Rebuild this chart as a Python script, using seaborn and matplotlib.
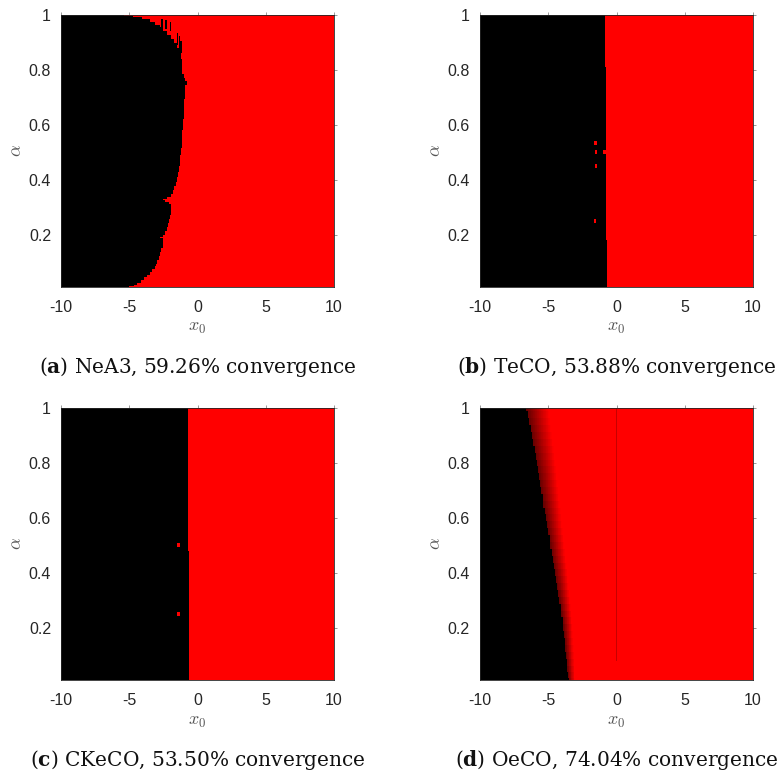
import numpy as np
import matplotlib
matplotlib.use("Agg")
import matplotlib.pyplot as plt
import seaborn as sns
from matplotlib.colors import LinearSegmentedColormap

# ---- parameter plane ------------------------------------------------------
X0_MIN, X0_MAX = -10.0, 10.0
ALPHA_MIN, ALPHA_MAX = 0.01, 1.0
X_TICKS = [-10, -5, 0, 5, 10]
ALPHA_TICKS = [0.2, 0.4, 0.6, 0.8, 1]
N_ROWS, N_COLS = 272, 400

# ---- basin boundaries: for each alpha knot, the x0 below which the scheme diverges
neA3_alpha = [0.010, 0.016, 0.022, 0.030, 0.040, 0.050, 0.060, 0.070, 0.080, 0.090,
              0.100, 0.115, 0.130, 0.145, 0.160, 0.175, 0.184, 0.190, 0.197, 0.205,
              0.220, 0.235, 0.250, 0.265, 0.280, 0.295, 0.308, 0.317, 0.323, 0.329,
              0.335, 0.343, 0.355, 0.370, 0.385, 0.400, 0.420, 0.440, 0.460, 0.480,
              0.500, 0.530, 0.560, 0.600, 0.640, 0.680, 0.710, 0.740, 0.770, 0.800,
              0.830, 0.850, 0.870, 0.890, 0.905, 0.920, 0.935, 0.950, 0.960, 0.970,
              0.980, 0.988, 0.994, 1.000]
neA3_edge = [-5.00, -4.65, -4.40, -4.15, -3.90, -3.68, -3.48, -3.32, -3.17, -3.05,
             -2.95, -2.84, -2.74, -2.65, -2.57, -2.50, -2.55, -2.75, -2.55, -2.40,
             -2.27, -2.17, -2.09, -2.02, -1.97, -1.94, -1.96, -2.08, -2.35, -2.55,
             -2.20, -1.95, -1.80, -1.68, -1.58, -1.50, -1.42, -1.35, -1.29, -1.24,
             -1.19, -1.13, -1.09, -1.06, -1.02, -0.98, -0.93, -0.93, -1.00, -1.08,
             -1.16, -1.22, -1.30, -1.48, -1.68, -1.95, -2.20, -2.50, -2.75, -3.10,
             -3.50, -4.10, -4.70, -5.40]
# thin divergent streaks just outside the main NeA3 basin: x0, alpha from, alpha to
neA3_streak_x = [-2.6, -2.3, -2.0, -1.45, -1.3, -1.2, -0.95, -0.85]
neA3_streak_lo = [0.955, 0.950, 0.940, 0.890, 0.880, 0.860, 0.735, 0.745]
neA3_streak_hi = [0.985, 0.980, 0.975, 0.935, 0.925, 0.905, 0.770, 0.760]

teCO_alpha = [0.01, 0.17, 0.19, 0.80, 0.82, 1.0]
teCO_edge = [-0.71, -0.71, -0.78, -0.78, -0.83, -0.83]
teCO_spot_x = [-1.5, -0.9, -1.55, -1.48, -1.58]
teCO_spot_alpha = [0.5, 0.5, 0.533, 0.449, 0.25]

ckeCO_alpha = [0.01, 0.47, 0.49, 1.0]
ckeCO_edge = [-0.62, -0.62, -0.72, -0.72]
ckeCO_spot_x = [-1.41, -1.41]
ckeCO_spot_alpha = [0.5, 0.25]

oeCO_alpha = [0.010, 0.025, 0.050, 0.075, 0.100, 0.125, 0.150, 0.175, 0.200, 0.225,
              0.250, 0.275, 0.300, 0.325, 0.350, 0.375, 0.400, 0.425, 0.450, 0.475,
              0.500, 0.525, 0.550, 0.575, 0.600, 0.625, 0.650, 0.675, 0.700, 0.725,
              0.750, 0.775, 0.800, 0.825, 0.850, 0.875, 0.900, 0.925, 0.950, 0.975, 1.000]
oeCO_edge = [-3.52, -3.55, -3.59, -3.64, -3.69, -3.74, -3.79, -3.84, -3.89, -3.96,
             -4.03, -4.10, -4.18, -4.26, -4.35, -4.42, -4.50, -4.58, -4.67, -4.75,
             -4.84, -4.92, -5.01, -5.10, -5.18, -5.25, -5.33, -5.42, -5.50, -5.58,
             -5.67, -5.75, -5.84, -5.92, -6.01, -6.11, -6.21, -6.31, -6.41, -6.50, -6.58]
# width (in x0) of the slow-convergence fringe next to the boundary
oeCO_fringe_alpha = [0.01, 0.5, 1.0]
oeCO_fringe_width = [0.45, 1.0, 1.6]

captions = [
    ("a", "NeA3", "59.26"),
    ("b", "TeCO", "53.88"),
    ("c", "CKeCO", "53.50"),
    ("d", "OeCO", "74.04"),
]

# ---- grid (row 0 = alpha max, drawn at the top) ---------------------------
dx = (X0_MAX - X0_MIN) / N_COLS
da = (ALPHA_MAX - ALPHA_MIN) / N_ROWS
x_c = X0_MIN + (np.arange(N_COLS) + 0.5) * dx
a_c = ALPHA_MAX - (np.arange(N_ROWS) + 0.5) * da
XX, AA = np.meshgrid(x_c, a_c)


def row_edges(knot_alpha, knot_edge):
    knot_alpha = np.asarray(knot_alpha)
    idx = np.abs(a_c[:, None] - knot_alpha[None, :]).argmin(axis=1)
    return np.asarray(knot_edge)[idx]


def basin(knot_alpha, knot_edge, spot_x=(), spot_alpha=()):
    edge = row_edges(knot_alpha, knot_edge)[:, None]
    z = np.where(XX >= edge, 1.0, 0.0)
    for sx, sa in zip(spot_x, spot_alpha):
        z[(np.abs(XX - sx) < 0.09) & (np.abs(AA - sa) < 0.007)] = 1.0
    return z


z_a = basin(neA3_alpha, neA3_edge)
for sx, lo, hi in zip(neA3_streak_x, neA3_streak_lo, neA3_streak_hi):
    z_a[(np.abs(XX - sx) < 0.04) & (AA >= lo) & (AA <= hi)] = 0.0
z_b = basin(teCO_alpha, teCO_edge, teCO_spot_x, teCO_spot_alpha)
z_c = basin(ckeCO_alpha, ckeCO_edge, ckeCO_spot_x, ckeCO_spot_alpha)

edge_d = row_edges(oeCO_alpha, oeCO_edge)[:, None]
fringe = np.interp(a_c, oeCO_fringe_alpha, oeCO_fringe_width)[:, None]
dist = XX - edge_d
z_d = np.where(dist >= 0, 0.4 + 0.6 * np.clip(dist / fringe, 0, 1), 0.0)
# slowly converging starts along x0 = 0
z_d[(np.abs(XX) < dx) & (AA > 0.08)] = 0.78

fields = [z_a, z_b, z_c, z_d]

# ---- style ------------------------------------------------------------------
sns.set_style("white")
plt.rcParams["font.family"] = ["Liberation Sans", "DejaVu Sans"]
plt.rcParams["mathtext.fontset"] = "custom"
plt.rcParams["mathtext.rm"] = "DejaVu Serif"
plt.rcParams["mathtext.bf"] = "DejaVu Serif:bold"
plt.rcParams["mathtext.it"] = "DejaVu Serif:italic"

cmap = LinearSegmentedColormap.from_list("basin", ["#000000", "#ff0000"])

W, H = 784, 776
fig = plt.figure(figsize=(W / 100, H / 100), dpi=100)
fig.patch.set_facecolor("white")

# axes boxes in pixels: (left, top, right, bottom)
boxes = [(61, 15, 334, 287), (480, 15, 753, 287),
         (61, 408, 334, 680), (480, 408, 753, 680)]
caption_y = [367, 367, 760, 760]

for (l, t, r, b), z, cap, cy in zip(boxes, fields, captions, caption_y):
    ax = fig.add_axes([l / W, 1 - b / H, (r - l) / W, (b - t) / H])
    sns.heatmap(z, ax=ax, cmap=cmap, vmin=0, vmax=1, cbar=False,
                xticklabels=False, yticklabels=False)
    xt = [(v - X0_MIN) / (X0_MAX - X0_MIN) * N_COLS for v in X_TICKS]
    yt = [(ALPHA_MAX - v) / (ALPHA_MAX - ALPHA_MIN) * N_ROWS for v in ALPHA_TICKS]
    ax.set_xticks(xt)
    ax.set_xticklabels([str(v) for v in X_TICKS], rotation=0)
    ax.set_yticks(yt)
    ax.set_yticklabels([f"{v:g}" for v in ALPHA_TICKS], rotation=0)
    ax.tick_params(axis="both", which="both", direction="out", length=2.2,
                   width=0.6, color="#8a8a8a", labelcolor="#262626",
                   labelsize=11.5, top=True, right=True)
    ax.tick_params(axis="x", pad=7)
    ax.tick_params(axis="y", pad=5)
    for s in ax.spines.values():
        s.set_visible(True)
        s.set_linewidth(0.6)
        s.set_color("#262626")
    ax.set_xlabel(r"$x_0$", fontsize=13, color="#555555", va="center",
                  math_fontfamily="cm")
    ax.xaxis.set_label_coords(0.5, -41 / (b - t))
    ax.set_ylabel(r"$\alpha$", fontsize=13, color="#555555", va="center",
                  math_fontfamily="cm")
    ax.yaxis.set_label_coords(-44 / (r - l), 0.5)

    letter, name, pct = cap
    fig.text((l + r) / 2 / W, 1 - cy / H,
             rf"($\mathbf{{{letter}}}$) {name}, {pct}% convergence",
             ha="center", va="center", fontsize=14.5, color="#111111",
             family="DejaVu Serif", math_fontfamily="custom")

fig.savefig("out.png", dpi=100, facecolor="white")
